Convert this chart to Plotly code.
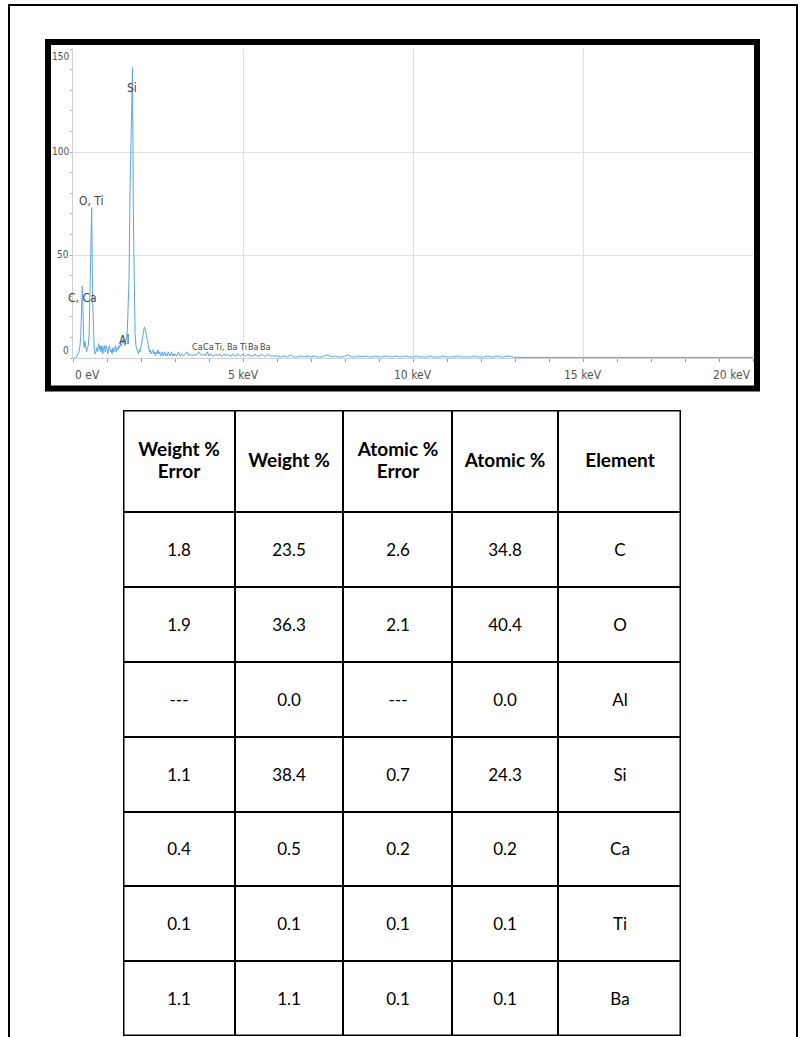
import plotly.graph_objects as go

W, H = 803, 1037

# ---------------- EDS spectrum data ----------------
energy_kev = [
    0.000, 0.025, 0.050, 0.075, 0.100, 0.125, 0.150, 0.175, 0.200, 0.225,
    0.250, 0.275, 0.300, 0.325, 0.350, 0.375, 0.400, 0.425, 0.450, 0.475,
    0.500, 0.525, 0.550, 0.575, 0.600, 0.625, 0.650, 0.675, 0.700, 0.725,
    0.750, 0.775, 0.800, 0.825, 0.850, 0.875, 0.900, 0.925, 0.950, 0.975,
    1.000, 1.025, 1.050, 1.075, 1.100, 1.125, 1.150, 1.175, 1.200, 1.225,
    1.250, 1.275, 1.300, 1.325, 1.350, 1.375, 1.400, 1.425, 1.450, 1.475,
    1.500, 1.525, 1.550, 1.575, 1.600, 1.625, 1.650, 1.675, 1.700, 1.725,
    1.750, 1.775, 1.800, 1.825, 1.850, 1.875, 1.900, 1.925, 1.950, 1.975,
    2.000, 2.025, 2.050, 2.075, 2.100, 2.125, 2.150, 2.175, 2.200, 2.225,
    2.250, 2.275, 2.300, 2.325, 2.350, 2.375, 2.400, 2.425, 2.450, 2.475,
    2.500, 2.525, 2.550, 2.575, 2.600, 2.625, 2.650, 2.675, 2.700, 2.725,
    2.750, 2.775, 2.800, 2.825, 2.850, 2.875, 2.900, 2.925, 2.950, 2.975,
    3.00, 3.05, 3.10, 3.15, 3.20, 3.25, 3.30, 3.35, 3.40, 3.45,
    3.50, 3.55, 3.60, 3.65, 3.70, 3.75, 3.80, 3.85, 3.90, 3.95,
    4.00, 4.05, 4.10, 4.15, 4.20, 4.25, 4.30, 4.35, 4.40, 4.45,
    4.50, 4.55, 4.60, 4.65, 4.70, 4.75, 4.80, 4.85, 4.90, 4.95,
    5.00, 5.05, 5.10, 5.15, 5.20, 5.25, 5.30, 5.35, 5.40, 5.45,
    5.50, 5.55, 5.60, 5.65, 5.70, 5.75, 5.80, 5.85, 5.90, 5.95,
    6.0, 6.1, 6.2, 6.3, 6.4, 6.5, 6.6, 6.7, 6.8, 6.9,
    7.0, 7.1, 7.2, 7.3, 7.4, 7.5, 7.6, 7.7, 7.8, 7.9,
    8.0, 8.1, 8.2, 8.3, 8.4, 8.5, 8.6, 8.7, 8.8, 8.9,
    9.0, 9.1, 9.2, 9.3, 9.4, 9.5, 9.6, 9.7, 9.8, 9.9,
    10.0, 10.1, 10.2, 10.3, 10.4, 10.5, 10.6, 10.7, 10.8, 10.9,
    11.0, 11.1, 11.2, 11.3, 11.4, 11.5, 11.6, 11.7, 11.8, 11.9,
    12.0, 12.1, 12.2, 12.3, 12.4, 12.5, 12.6, 12.7, 12.8, 12.9,
    13.0, 13.5, 20.0,
]

counts = [
    0, 0, 0, 0, 0.5, 1, 2, 3, 5, 10,
    26, 35, 18, 5, 8, 6, 3, 5, 6, 12,
    38, 60, 73, 30, 8, 4, 2, 3, 5, 3,
    7, 4, 6, 3, 6, 2, 5, 6, 3, 6,
    4, 2, 5, 6, 3, 4, 2, 5, 3, 4,
    6, 3, 5, 4, 6, 5, 7, 6, 8, 9,
    7, 6, 8, 10, 14, 24, 40, 79, 100, 128,
    141, 70, 27, 12, 6, 4, 3, 2, 4, 3,
    5, 7, 10, 13, 15, 14, 12, 9, 7, 5,
    3, 4, 2, 3, 4, 2, 3, 1, 3, 2,
    4, 2, 3, 1, 2, 3, 1, 2, 3, 1,
    2, 1, 3, 2, 1, 2, 3, 1, 2, 1,
    2, 1, 3, 1, 2, 1, 2, 3, 1, 2,
    1, 2, 1, 2, 3, 2, 1, 2, 1, 3,
    1, 2, 1, 1, 2, 1, 2, 1, 1, 2,
    1, 2, 1, 1, 2, 1, 1, 2, 1, 1,
    2, 1, 1, 2, 1, 1, 1, 2, 1, 1,
    1, 2, 1, 1, 1, 2, 1, 1, 1, 1,
    1, 0.5, 1, 0.5, 1.5, 0.5, 0.5, 1, 0.5, 1,
    0.5, 1, 0.5, 0.5, 1, 1.5, 0.5, 1, 0.5, 0.5,
    1, 1.5, 0.5, 0.5, 1, 0.5, 1, 0.5, 0.5, 1,
    0.5, 0.5, 1, 0.5, 0.5, 1, 0.5, 0.5, 1, 0.5,
    0.5, 1, 0.5, 0.5, 0.5, 1, 0.5, 0.5, 0.5, 1,
    0.5, 0.5, 0.5, 1, 0.5, 0.5, 0.5, 0.5, 1, 0.5,
    0.5, 0.5, 1, 0.5, 0.5, 1, 0.5, 0.5, 1, 0.5,
    0.3, 0.3, 0.3,
]

# Element markers on the spectrum
peak_labels = ["C, Ca", "O, Ti", "Al", "Si", "Ca", "Ca", "Ti,", "Ba", "Ti", "Ba", "Ba"]
peak_label_kev = [0.29, 0.55, 1.50, 1.74, 3.65, 3.99, 4.32, 4.68, 5.00, 5.32, 5.66]
peak_label_counts = [29, 76, 8.7, 131, 5.3, 5.3, 5.3, 5.3, 5.3, 5.3, 5.3]

x_tick_vals = [0, 5, 10, 15, 20]
x_tick_text = ["0 eV", "5 keV", "10 keV", "15 keV", "20 keV"]
y_tick_vals = [0, 50, 100, 150]
y_tick_text = ["0", "50", "100", "150"]

# ---------------- Quantification table ----------------
table_header = ["Weight %<br>Error", "Weight %", "Atomic %<br>Error", "Atomic %", "Element"]
weight_pct_error = ["1.8", "1.9", "---", "1.1", "0.4", "0.1", "1.1"]
weight_pct = ["23.5", "36.3", "0.0", "38.4", "0.5", "0.1", "1.1"]
atomic_pct_error = ["2.6", "2.1", "---", "0.7", "0.2", "0.1", "0.1"]
atomic_pct = ["34.8", "40.4", "0.0", "24.3", "0.2", "0.1", "0.1"]
elements = ["C", "O", "Al", "Si", "Ca", "Ti", "Ba"]


def px(x):
    return x / W


def py(y):
    return 1 - y / H


SPEC_FONT = "DejaVu Sans Condensed, Liberation Sans Narrow, sans-serif"
TABLE_FONT = "Lato, Carlito, Calibri, sans-serif"

fig = go.Figure()

fig.add_trace(go.Scatter(
    x=energy_kev, y=counts, mode="lines",
    line=dict(color="#5aa6e6", width=1),
    hoverinfo="skip", showlegend=False,
    xaxis="x", yaxis="y",
))

# table as a heatmap of white cells with black gaps
col_w = [112, 108, 109, 106, 123]
row_h = [102, 75, 75, 75, 75, 74, 75, 75]
x_edges = [0]
for w_ in col_w:
    x_edges.append(x_edges[-1] + w_)
y_edges = [0]
for h_ in row_h:
    y_edges.append(y_edges[-1] + h_)

columns = [weight_pct_error, weight_pct, atomic_pct_error, atomic_pct, elements]
cell_text = [["<span style='font-size:19px'><b>%s</b></span>" % h for h in table_header]]
for r in range(len(elements)):
    cell_text.append([col[r] for col in columns])
z = [[0] * len(columns) for _ in cell_text]

fig.add_trace(go.Heatmap(
    x=x_edges, y=y_edges, z=z, text=cell_text, texttemplate="%{text}",
    textfont=dict(family=TABLE_FONT, size=17, color="black"),
    colorscale=[[0, "white"], [1, "white"]], showscale=False,
    xgap=2, ygap=2, hoverinfo="skip", xaxis="x2", yaxis="y2",
))

TL, TT = 123, 410  # table top-left in px
table_w, table_h = x_edges[-1], y_edges[-1]

annotations = []
for i, (t, xv, yv) in enumerate(zip(peak_labels, peak_label_kev, peak_label_counts)):
    fs = 12 if i < 4 else 9
    annotations.append(dict(x=xv, y=yv, xref="x", yref="y", text=t, showarrow=False,
                            font=dict(family=SPEC_FONT, size=fs, color="#444444"),
                            xanchor="center", yanchor="middle"))
for i, (xv, t) in enumerate(zip(x_tick_vals, x_tick_text)):
    anchor = "left" if i == 0 else ("right" if i == len(x_tick_vals) - 1 else "center")
    annotations.append(dict(x=xv, y=py(375), xref="x", yref="paper", text=t, showarrow=False,
                            font=dict(family=SPEC_FONT, size=12, color="#555555"),
                            xanchor=anchor, yanchor="middle"))
for i, (yv, t) in enumerate(zip(y_tick_vals, y_tick_text)):
    yanc = "bottom" if i == 0 else ("top" if i == len(y_tick_vals) - 1 else "middle")
    annotations.append(dict(x=px(71), y=yv, xref="paper", yref="y", text=t, showarrow=False,
                            font=dict(family=SPEC_FONT, size=10, color="#555555"),
                            xanchor="right", yanchor=yanc))

shapes = [
    # page border
    dict(type="rect", xref="paper", yref="paper", x0=px(9), x1=px(797), y0=py(1050), y1=py(5),
         line=dict(color="black", width=2), layer="above"),
    # chart frame
    dict(type="rect", xref="paper", yref="paper", x0=px(48), x1=px(757), y0=py(388.5), y1=py(42),
         line=dict(color="black", width=6), layer="above"),
    # table black backing (shows through the cell gaps)
    dict(type="rect", xref="x2", yref="y2", x0=0, x1=table_w, y0=0, y1=table_h,
         fillcolor="black", line=dict(width=0), layer="below"),
    # table outer border
    dict(type="rect", xref="x2", yref="y2", x0=0, x1=table_w, y0=0, y1=table_h,
         line=dict(color="black", width=3), layer="above"),
]

fig.update_layout(
    width=W, height=H, margin=dict(l=0, r=0, t=0, b=0),
    paper_bgcolor="white", plot_bgcolor="white", showlegend=False,
    xaxis=dict(domain=[px(73), px(753)], range=[0, 20], tickvals=x_tick_vals,
               showticklabels=False, showgrid=True, gridcolor="#e0e0e0", gridwidth=1,
               zeroline=False, showline=True, linecolor="#cfcfcf", linewidth=1,
               ticks="outside", ticklen=3, tickcolor="#9a9a9a",
               minor=dict(dtick=1, ticks="outside", ticklen=3, tickcolor="#9a9a9a", showgrid=False),
               fixedrange=True, anchor="y"),
    yaxis=dict(domain=[py(358), py(49)], range=[0, 150], tickvals=y_tick_vals,
               showticklabels=False, showgrid=True, gridcolor="#e0e0e0", gridwidth=1,
               zeroline=False, showline=True, linecolor="#cfcfcf", linewidth=1,
               ticks="outside", ticklen=2, tickcolor="#b0b0b0",
               minor=dict(dtick=10, ticks="outside", ticklen=2, tickcolor="#b0b0b0", showgrid=False),
               fixedrange=True, anchor="x"),
    xaxis2=dict(domain=[px(TL), px(TL + table_w)], range=[0, table_w], visible=False,
                fixedrange=True, anchor="y2"),
    yaxis2=dict(domain=[py(TT + table_h), py(TT)], range=[table_h, 0], visible=False,
                fixedrange=True, anchor="x2"),
    annotations=annotations,
    shapes=shapes,
)

fig.write_html("out.html", config={"displayModeBar": False},
               post_script="document.body.style.margin='0';document.body.style.padding='0';")
